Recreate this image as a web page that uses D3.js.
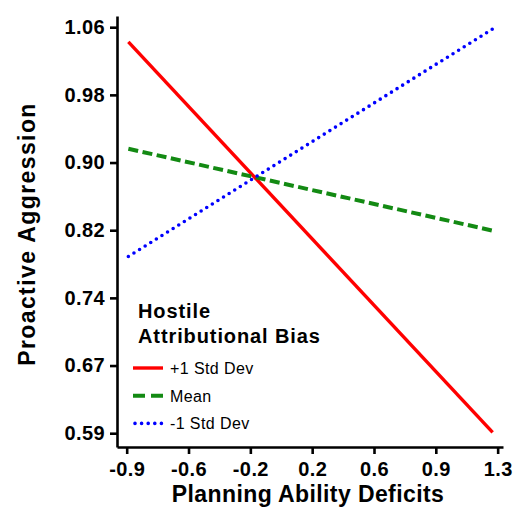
<!DOCTYPE html>
<html>
<head>
<meta charset="utf-8">
<script src="https://cdn.jsdelivr.net/npm/d3@7"></script>
<style>
  body { margin: 0; background: #fff; }
  svg { display: block; font-family: "Liberation Sans", Arial, Helvetica, sans-serif; }
  .axis path, .axis line { stroke: #000; stroke-width: 2.6; }
  .axis text { font-size: 20px; font-weight: bold; fill: #000; letter-spacing: 0.4px; }
  .title { font-size: 23px; font-weight: bold; fill: #000; }
</style>
</head>
<body>
<div class="container"></div>
<script>
  // Planning ability deficits at both ends of each simple slope
  const xValues = [-0.92, 1.26];
  const series = ['+1 Std Dev', 'Mean', '-1 Std Dev'];
  const seriesValues = [
    [1.041, 0.588],
    [0.917, 0.822],
    [0.792, 1.056]
  ];
  const colors = ['#ff0000', '#138a13', '#0000ff'];
  const dashes = ['none', '10,4.5', '0,6.6'];

  // tick positions are evenly spaced, labels are rounded
  const xTickValues = [-0.93, -0.56, -0.19, 0.18, 0.55, 0.92, 1.29];
  const xTickLabels = ['-0.9', '-0.6', '-0.2', '0.2', '0.6', '0.9', '1.3'];
  const yTickValues = [0.587, 0.6655, 0.744, 0.8225, 0.901, 0.9795, 1.058];
  const yTickLabels = ['0.59', '0.67', '0.74', '0.82', '0.90', '0.98', '1.06'];

  const width = 515;
  const height = 509;
  const padding = { top: 16, right: 12, bottom: 62, left: 117 };

  const svg = d3.select('.container')
    .append('svg')
    .attr('width', width)
    .attr('height', height);

  const xScale = d3.scaleLinear()
    .domain([-0.988, 1.322])
    .range([padding.left, width - padding.right]);

  const yScale = d3.scaleLinear()
    .domain([0.571, 1.071])
    .range([height - padding.bottom, padding.top]);

  // Axes
  svg.append('g')
    .attr('class', 'axis')
    .attr('transform', `translate(0, ${height - padding.bottom})`)
    .call(d3.axisBottom(xScale)
      .tickValues(xTickValues)
      .tickFormat((d, i) => xTickLabels[i])
      .tickSize(7)
      .tickPadding(8)
      .tickSizeOuter(0));

  svg.append('g')
    .attr('class', 'axis')
    .attr('transform', `translate(${padding.left}, 0)`)
    .call(d3.axisLeft(yScale)
      .tickValues(yTickValues)
      .tickFormat((d, i) => yTickLabels[i])
      .tickSize(7)
      .tickPadding(5)
      .tickSizeOuter(0));

  svg.append('text')
    .attr('class', 'title')
    .attr('x', 308)
    .attr('y', 502)
    .attr('text-anchor', 'middle')
    .style('letter-spacing', '0.4px')
    .text('Planning Ability Deficits');

  svg.append('text')
    .attr('class', 'title')
    .attr('transform', 'translate(34.5, 234) rotate(-90)')
    .attr('text-anchor', 'middle')
    .style('letter-spacing', '1.4px')
    .text('Proactive Aggression');

  // Lines
  const line = d3.line()
    .x((d, i) => xScale(xValues[i]))
    .y(d => yScale(d));

  svg.selectAll('.series')
    .data(seriesValues)
    .enter()
    .append('path')
    .attr('class', 'series')
    .attr('d', d => line(d))
    .attr('fill', 'none')
    .attr('stroke', (d, i) => colors[i])
    .attr('stroke-width', (d, i) => i === 0 ? 3.4 : i === 1 ? 4 : 3.6)
    .attr('stroke-linecap', (d, i) => i === 2 ? 'round' : 'butt')
    .attr('stroke-dasharray', (d, i) => dashes[i]);

  // Legend
  const legend = svg.append('g')
    .attr('transform', 'translate(137, 0)');

  legend.append('text')
    .attr('x', 1)
    .attr('y', 318)
    .style('font-size', '20px')
    .style('font-weight', 'bold')
    .style('letter-spacing', '0.9px')
    .text('Hostile');

  legend.append('text')
    .attr('x', 1)
    .attr('y', 343)
    .style('font-size', '20px')
    .style('font-weight', 'bold')
    .style('letter-spacing', '0.9px')
    .text('Attributional Bias');

  const items = legend.selectAll('.item')
    .data(series)
    .enter()
    .append('g')
    .attr('class', 'item')
    .attr('transform', (d, i) => `translate(0, ${368 + i * 27.7})`);

  items.append('line')
    .attr('x1', (d, i) => i === 2 ? -2 : -4)
    .attr('x2', 26)
    .attr('y1', 0)
    .attr('y2', 0)
    .attr('stroke', (d, i) => colors[i])
    .attr('stroke-width', (d, i) => i === 0 ? 3.4 : i === 1 ? 4 : 3.6)
    .attr('stroke-linecap', (d, i) => i === 2 ? 'round' : 'butt')
    .attr('stroke-dasharray', (d, i) => i === 1 ? '12,6' : dashes[i]);

  items.append('text')
    .attr('x', 33)
    .attr('y', 6)
    .style('font-size', '16px')
    .style('letter-spacing', '0.4px')
    .text(d => d);
</script>
</body>
</html>
